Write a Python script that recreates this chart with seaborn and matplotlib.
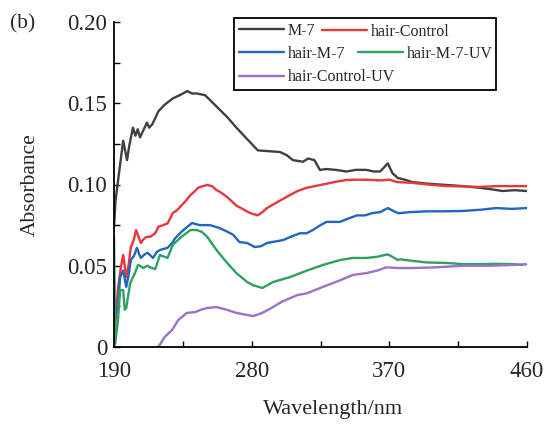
import numpy as np
import pandas as pd
import matplotlib
matplotlib.use("Agg")
import matplotlib.pyplot as plt
import seaborn as sns
from matplotlib.ticker import FixedLocator, FuncFormatter

# ---------------- data ----------------
m7_wl = [190, 191, 193, 196, 198.5, 200, 202.4, 204, 205.5, 207, 209, 211.5, 213, 215, 219, 223,
         228.5, 233, 238, 241, 244, 249.5, 257, 264, 270, 277, 284, 291, 298.5, 303, 307, 313.5,
         317, 321, 324.6, 329, 335, 342, 348, 355, 360, 364, 367, 369, 372, 375.6, 380, 385, 395,
         407.6, 418, 429, 437, 444, 452, 460]
m7_abs = [0.074, 0.090, 0.105, 0.127, 0.115, 0.124, 0.135, 0.130, 0.134, 0.129, 0.133, 0.138,
          0.135, 0.137, 0.145, 0.149, 0.153, 0.155, 0.1575, 0.156, 0.156, 0.155, 0.148, 0.1415,
          0.135, 0.128, 0.121, 0.1205, 0.120, 0.118, 0.115, 0.114, 0.116, 0.115, 0.109, 0.1095,
          0.109, 0.108, 0.109, 0.109, 0.108, 0.108, 0.111, 0.113, 0.107, 0.104, 0.103, 0.1015,
          0.1005, 0.0997, 0.099, 0.098, 0.097, 0.096, 0.0965, 0.096]

ctrl_wl = [190, 190.7, 192.5, 194.5, 196, 198, 199.5, 201, 203, 204.4, 206, 207.6, 209, 211, 214,
           217, 219, 222, 225, 228.5, 231, 234, 237, 240, 243, 245, 248, 251, 254, 257, 260, 264,
           270, 274, 279, 284, 287, 290, 296.5, 305, 310, 316, 326.6, 334, 342, 350, 359, 365,
           370, 375, 385, 395, 407.6, 418, 429, 440, 450, 460]
ctrl_abs = [0.0, 0.012, 0.035, 0.049, 0.0566, 0.043, 0.050, 0.0615, 0.066, 0.072, 0.068, 0.064,
            0.066, 0.0677, 0.068, 0.070, 0.074, 0.075, 0.076, 0.0825, 0.084, 0.087, 0.090, 0.0935,
            0.096, 0.098, 0.099, 0.0997, 0.099, 0.0966, 0.095, 0.0923, 0.087, 0.085, 0.0824, 0.081,
            0.083, 0.0855, 0.089, 0.0935, 0.096, 0.098, 0.100, 0.1015, 0.1028, 0.103, 0.1028,
            0.1025, 0.103, 0.1015, 0.101, 0.100, 0.099, 0.0988, 0.0985, 0.099, 0.099, 0.099]

hm7_wl = [190, 190.6, 192.6, 194, 196, 198, 199.5, 201, 203, 205, 206.5, 207.6, 210, 212, 215.5,
          218, 220, 225, 228, 230, 234, 238, 241, 246, 252.7, 259, 264, 268, 272, 277, 282, 286,
          290, 300.5, 306, 311.6, 316, 320, 325, 329, 337.7, 343, 348.8, 354, 359, 364, 369, 372,
          375.6, 377, 383.5, 395, 405, 418, 430, 440, 450, 460]
hm7_abs = [0.002, 0.018, 0.0246, 0.043, 0.047, 0.037, 0.044, 0.0535, 0.056, 0.061, 0.057, 0.0548,
           0.057, 0.058, 0.0548, 0.0585, 0.0597, 0.061, 0.064, 0.067, 0.0708, 0.074, 0.0763,
           0.075, 0.075, 0.0732, 0.071, 0.069, 0.0646, 0.064, 0.0615, 0.062, 0.064, 0.0658, 0.068,
           0.070, 0.070, 0.072, 0.075, 0.077, 0.077, 0.079, 0.081, 0.081, 0.0824, 0.083, 0.0855,
           0.084, 0.0824, 0.0824, 0.083, 0.0835, 0.0835, 0.0837, 0.0845, 0.0855, 0.085, 0.0855]

hm7uv_wl = [190, 190.8, 192.6, 194, 196, 197, 198, 200.5, 203.7, 205.7, 207, 209, 212, 213.5, 217,
            220, 225, 228.5, 234, 240, 244, 247.5, 251, 257, 264, 270, 277, 281, 287, 294, 305,
            316, 326.6, 337.7, 346, 355, 362, 369, 372, 375.6, 377, 385, 395, 407.6, 418, 429,
            440, 450, 457]
hm7uv_abs = [0.068, 0.002, 0.0166, 0.035, 0.035, 0.023, 0.024, 0.039, 0.0455, 0.0505, 0.050,
             0.0486, 0.050, 0.049, 0.048, 0.0566, 0.0548, 0.063, 0.0677, 0.072, 0.072, 0.0708,
             0.0677, 0.0597, 0.0517, 0.0455, 0.040, 0.038, 0.0363, 0.040, 0.043, 0.047, 0.0505,
             0.0535, 0.0548, 0.0548, 0.0555, 0.057, 0.0555, 0.0535, 0.054, 0.053, 0.052, 0.0517,
             0.051, 0.051, 0.0512, 0.051, 0.0505]

cuv_wl = [219, 223, 228, 232, 237.7, 243, 247, 251, 257, 264, 270, 277, 281, 287, 294, 300, 305,
          310, 316, 326.6, 337.7, 346, 355, 362, 368, 375.6, 385, 400, 418, 435, 451, 460]
cuv_abs = [0.0, 0.006, 0.0105, 0.0166, 0.021, 0.0215, 0.023, 0.024, 0.0246, 0.0228, 0.021,
           0.0197, 0.019, 0.021, 0.0246, 0.028, 0.030, 0.032, 0.033, 0.037, 0.041, 0.0443,
           0.0455, 0.047, 0.049, 0.0486, 0.0486, 0.049, 0.050, 0.050, 0.0505, 0.051]

series_names = ["M-7", "hair-Control", "hair-M-7", "hair-M-7-UV", "hair-Control-UV"]
series_colors = ["#404040", "#e8363c", "#2166c0", "#2ea062", "#9a72c8"]
x_ticks = [190, 280, 370, 460]
y_ticks = [0, 0.05, 0.10, 0.15, 0.20]
y_tick_labels = ["0", "0.05", "0.10", "0.15", "0.20"]

series_wl = [m7_wl, ctrl_wl, hm7_wl, hm7uv_wl, cuv_wl]
series_abs = [m7_abs, ctrl_abs, hm7_abs, hm7uv_abs, cuv_abs]

# ---------------- styling ----------------
sns.set_style("ticks")
plt.rcParams["font.family"] = ["Liberation Serif", "DejaVu Serif"]

fig = plt.figure(figsize=(5.48, 4.24), dpi=100)
ax = fig.add_axes([114 / 548, 1 - 347 / 424, 413 / 548, 325 / 424])

lines = {}
for name, col, wl, ab in zip(series_names, series_colors, series_wl, series_abs):
    df = pd.DataFrame({"Wavelength": wl, "Absorbance": ab})
    sns.lineplot(data=df, x="Wavelength", y="Absorbance", ax=ax, color=col,
                 linewidth=1.7, legend=False, sort=False, estimator=None)
    lines[name] = ax.lines[-1]

ax.set_xlim(190, 460)
ax.set_ylim(0, 0.20)
ax.xaxis.set_major_locator(FixedLocator(x_ticks))
ax.xaxis.set_minor_locator(FixedLocator([235, 325, 415]))
ax.yaxis.set_major_locator(FixedLocator(y_ticks))
ax.yaxis.set_minor_locator(FixedLocator([0.025, 0.075, 0.125, 0.175]))
ax.yaxis.set_major_formatter(FuncFormatter(lambda v, p: y_tick_labels[y_ticks.index(round(v, 2))]
                                           if round(v, 2) in y_ticks else ""))
ax.tick_params(axis="both", which="both", direction="in", length=4, width=1.0, color="black")
ax.tick_params(axis="x", which="major", labelsize=16.5, pad=10)
ax.tick_params(axis="y", which="major", labelsize=16.5, pad=5)

for s in ["top", "right"]:
    ax.spines[s].set_visible(False)
for s in ["left", "bottom"]:
    ax.spines[s].set_color("black")
    ax.spines[s].set_linewidth(1.3)

ax.set_xlabel("Wavelength/nm", fontsize=16)
ax.xaxis.set_label_coords((333 - 114) / 413, (347 - 400) / 325)
ax.set_ylabel("Absorbance", fontsize=15.5)
ax.yaxis.set_label_coords((40 - 114) / 413, 0.5)
fig.text(10 / 548, 1 - 24 / 424, "(b)", fontsize=15.5, ha="left", va="center")

# ---------------- legend (Origin-style flowing layout) ----------------
leg_kw = dict(fontsize=11.5, handlelength=2.8, handletextpad=0.25, borderaxespad=0)
legA = ax.legend([lines["M-7"], lines["hair-M-7"], lines["hair-Control-UV"]],
                 ["M-7", "hair-M-7", "hair-Control-UV"],
                 loc="upper left", mode="expand",
                 bbox_to_anchor=((234 - 114) / 413, 0.5, (496 - 234) / 413, (347 - 18) / 325 - 0.5),
                 frameon=True, fancybox=False, framealpha=1, edgecolor="black",
                 borderpad=0.3, labelspacing=0.45, **leg_kw)
legA.get_frame().set_linewidth(1.3)
ax.add_artist(legA)

legB = ax.legend([lines["hair-Control"]], ["hair-Control"], loc="center left",
                 bbox_to_anchor=((322 - 114) / 413, (347 - 32) / 325),
                 frameon=False, borderpad=0, **leg_kw)
ax.add_artist(legB)
legC = ax.legend([lines["hair-M-7-UV"]], ["hair-M-7-UV"], loc="center left",
                 bbox_to_anchor=((358 - 114) / 413, (347 - 54) / 325),
                 frameon=False, borderpad=0, **leg_kw)

fig.savefig("out.png", dpi=100)
